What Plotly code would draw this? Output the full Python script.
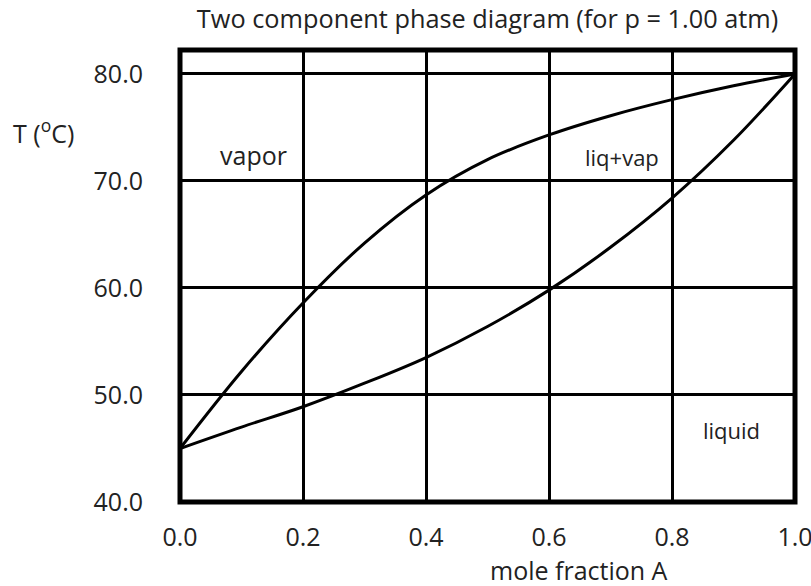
import plotly.graph_objects as go

# Data
x_frac = [0.0, 0.1, 0.2, 0.3, 0.4, 0.5, 0.6, 0.7, 0.8, 0.9, 1.0]
T_vapor = [45.0, 52.2, 58.6, 64.2, 68.7, 72.0, 74.3, 76.1, 77.6, 78.9, 80.0]
T_liquid = [45.0, 47.0, 48.9, 51.1, 53.5, 56.4, 59.8, 63.8, 68.4, 73.8, 80.0]

x_ticks = [0.0, 0.2, 0.4, 0.6, 0.8, 1.0]
y_ticks = [40, 50, 60, 70, 80]

FONT = "Open Sans"
TXT = "#222"

FIG_W, FIG_H = 811, 586

fig = go.Figure()
fig.add_trace(go.Scatter(x=x_frac, y=T_vapor, mode="lines", line=dict(color="black", width=3, shape="spline"),
                         hoverinfo="skip", showlegend=False))
fig.add_trace(go.Scatter(x=x_frac, y=T_liquid, mode="lines", line=dict(color="black", width=3, shape="spline"),
                         hoverinfo="skip", showlegend=False))

fig.update_layout(
    width=FIG_W, height=FIG_H,
    margin=dict(l=180, r=16, t=50, b=84, autoexpand=False),
    paper_bgcolor="white", plot_bgcolor="white",
    font=dict(family=FONT, color=TXT, size=24),
    title=dict(text="Two component phase diagram (for p = 1.00 atm)", x=0.5, xref="paper",
               y=1 - 19 / FIG_H, yref="container", yanchor="middle", font=dict(size=25.3, color=TXT)),
    xaxis=dict(range=[0, 1], tickvals=x_ticks, tickformat=".1f", showgrid=True, gridcolor="black",
               gridwidth=2.5, zeroline=False, showline=False, ticks="", ticklabelstandoff=18,
               ticklabeloverflow="allow", automargin=False, tickfont=dict(size=25)),
    yaxis=dict(range=[40, 82.24], tickvals=y_ticks, tickformat=".1f", showgrid=True, gridcolor="black",
               gridwidth=2.5, zeroline=False, showline=False, ticks="", ticklabelstandoff=36,
               ticklabeloverflow="allow", automargin=False, tickfont=dict(size=25)),
)

fig.add_shape(type="rect", xref="paper", yref="paper", x0=0, y0=0, x1=1, y1=1,
              line=dict(color="black", width=5), layer="above")

# convert positions measured on the 811x586 reference into plot-area fractions
W, H = 615.0, 452.0
def px(xp):
    return (xp - 180) / W
def py(yp):
    return (502 - yp) / H

annos = [
    dict(text="vapor", x=px(253), y=py(155), size=25),
    dict(text="liq+vap", x=px(622), y=py(157), size=22),
    dict(text="liquid", x=px(731), y=py(430), size=22),
    dict(text="T (<sup>o</sup>C)", x=px(43), y=py(132), size=25),
    dict(text="mole fraction A", x=px(579), y=py(570), size=25),
]
for a in annos:
    s = a.pop("size")
    fig.add_annotation(showarrow=False, xref="paper", yref="paper", xanchor="center", yanchor="middle",
                       font=dict(size=s, color=TXT), **a)

# remove the browser's default 8px body margin so the figure fills the window exactly
fig.write_html("out.html", config={"displayModeBar": False},
               post_script="document.body.style.margin='0';document.body.style.overflow='hidden';")
